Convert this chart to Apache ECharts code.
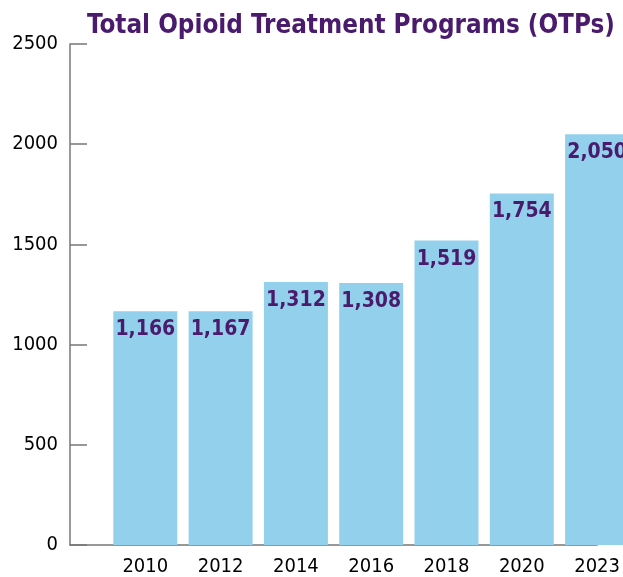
<!DOCTYPE html>
<html>
<head>
<meta charset="utf-8">
<script src="https://cdn.jsdelivr.net/npm/echarts@6/dist/echarts.min.js"></script>
<style>
  html, body { margin: 0; padding: 0; background: #fff; }
  #chart { width: 623px; height: 577px; }
</style>
</head>
<body>
<div id="chart"></div>
<script>
// data
var years = ['', '2010', '2012', '2014', '2016', '2018', '2020', '2023'];
var otps = [null, 1166, 1167, 1312, 1308, 1519, 1754, 2050];
var yTicks = [0, 500, 1000, 1500, 2000, 2500];

var FONT = '"Liberation Sans Narrow", "DejaVu Sans Condensed", sans-serif';
var PURPLE = '#4a1a6c';

var myChart = echarts.init(document.getElementById('chart'));

var option = {
    animation: false,
    title: {
        text: 'Total Opioid Treatment Programs (OTPs)',
        left: 82,
        top: 8,
        textStyle: {
            fontFamily: FONT,
            fontWeight: 'bold',
            fontSize: 25.8,
            color: PURPLE
        }
    },
    grid: {
        left: 70,
        right: 22,
        top: 44,
        bottom: 31,
        containLabel: false
    },
    xAxis: {
        type: 'category',
        data: years,
        boundaryGap: false,
        axisLine: { lineStyle: { color: '#777', width: 1.5 } },
        axisTick: { show: false },
        axisLabel: {
            fontFamily: FONT,
            fontSize: 20,
            color: '#000',
            margin: 12
        }
    },
    yAxis: {
        type: 'value',
        min: yTicks[0],
        max: yTicks[yTicks.length - 1],
        interval: 500,
        axisLine: { show: true, lineStyle: { color: '#777', width: 1.5 } },
        axisTick: { show: true, inside: true, length: 17, lineStyle: { color: '#777', width: 1.5 } },
        splitLine: { show: false },
        axisLabel: {
            fontFamily: FONT,
            fontSize: 20,
            color: '#000',
            margin: 12,
            formatter: function (v) { return String(v); }
        }
    },
    series: [{
        type: 'bar',
        data: otps,
        barWidth: 64,
        itemStyle: { color: '#93d0ec' },
        label: {
            show: true,
            position: 'insideTop',
            distance: 8,
            fontFamily: FONT,
            fontWeight: 'bold',
            fontSize: 21,
            color: PURPLE,
            formatter: function (p) {
                return p.value.toLocaleString('en-US');
            }
        }
    }]
};

myChart.setOption(option);
</script>
</body>
</html>
